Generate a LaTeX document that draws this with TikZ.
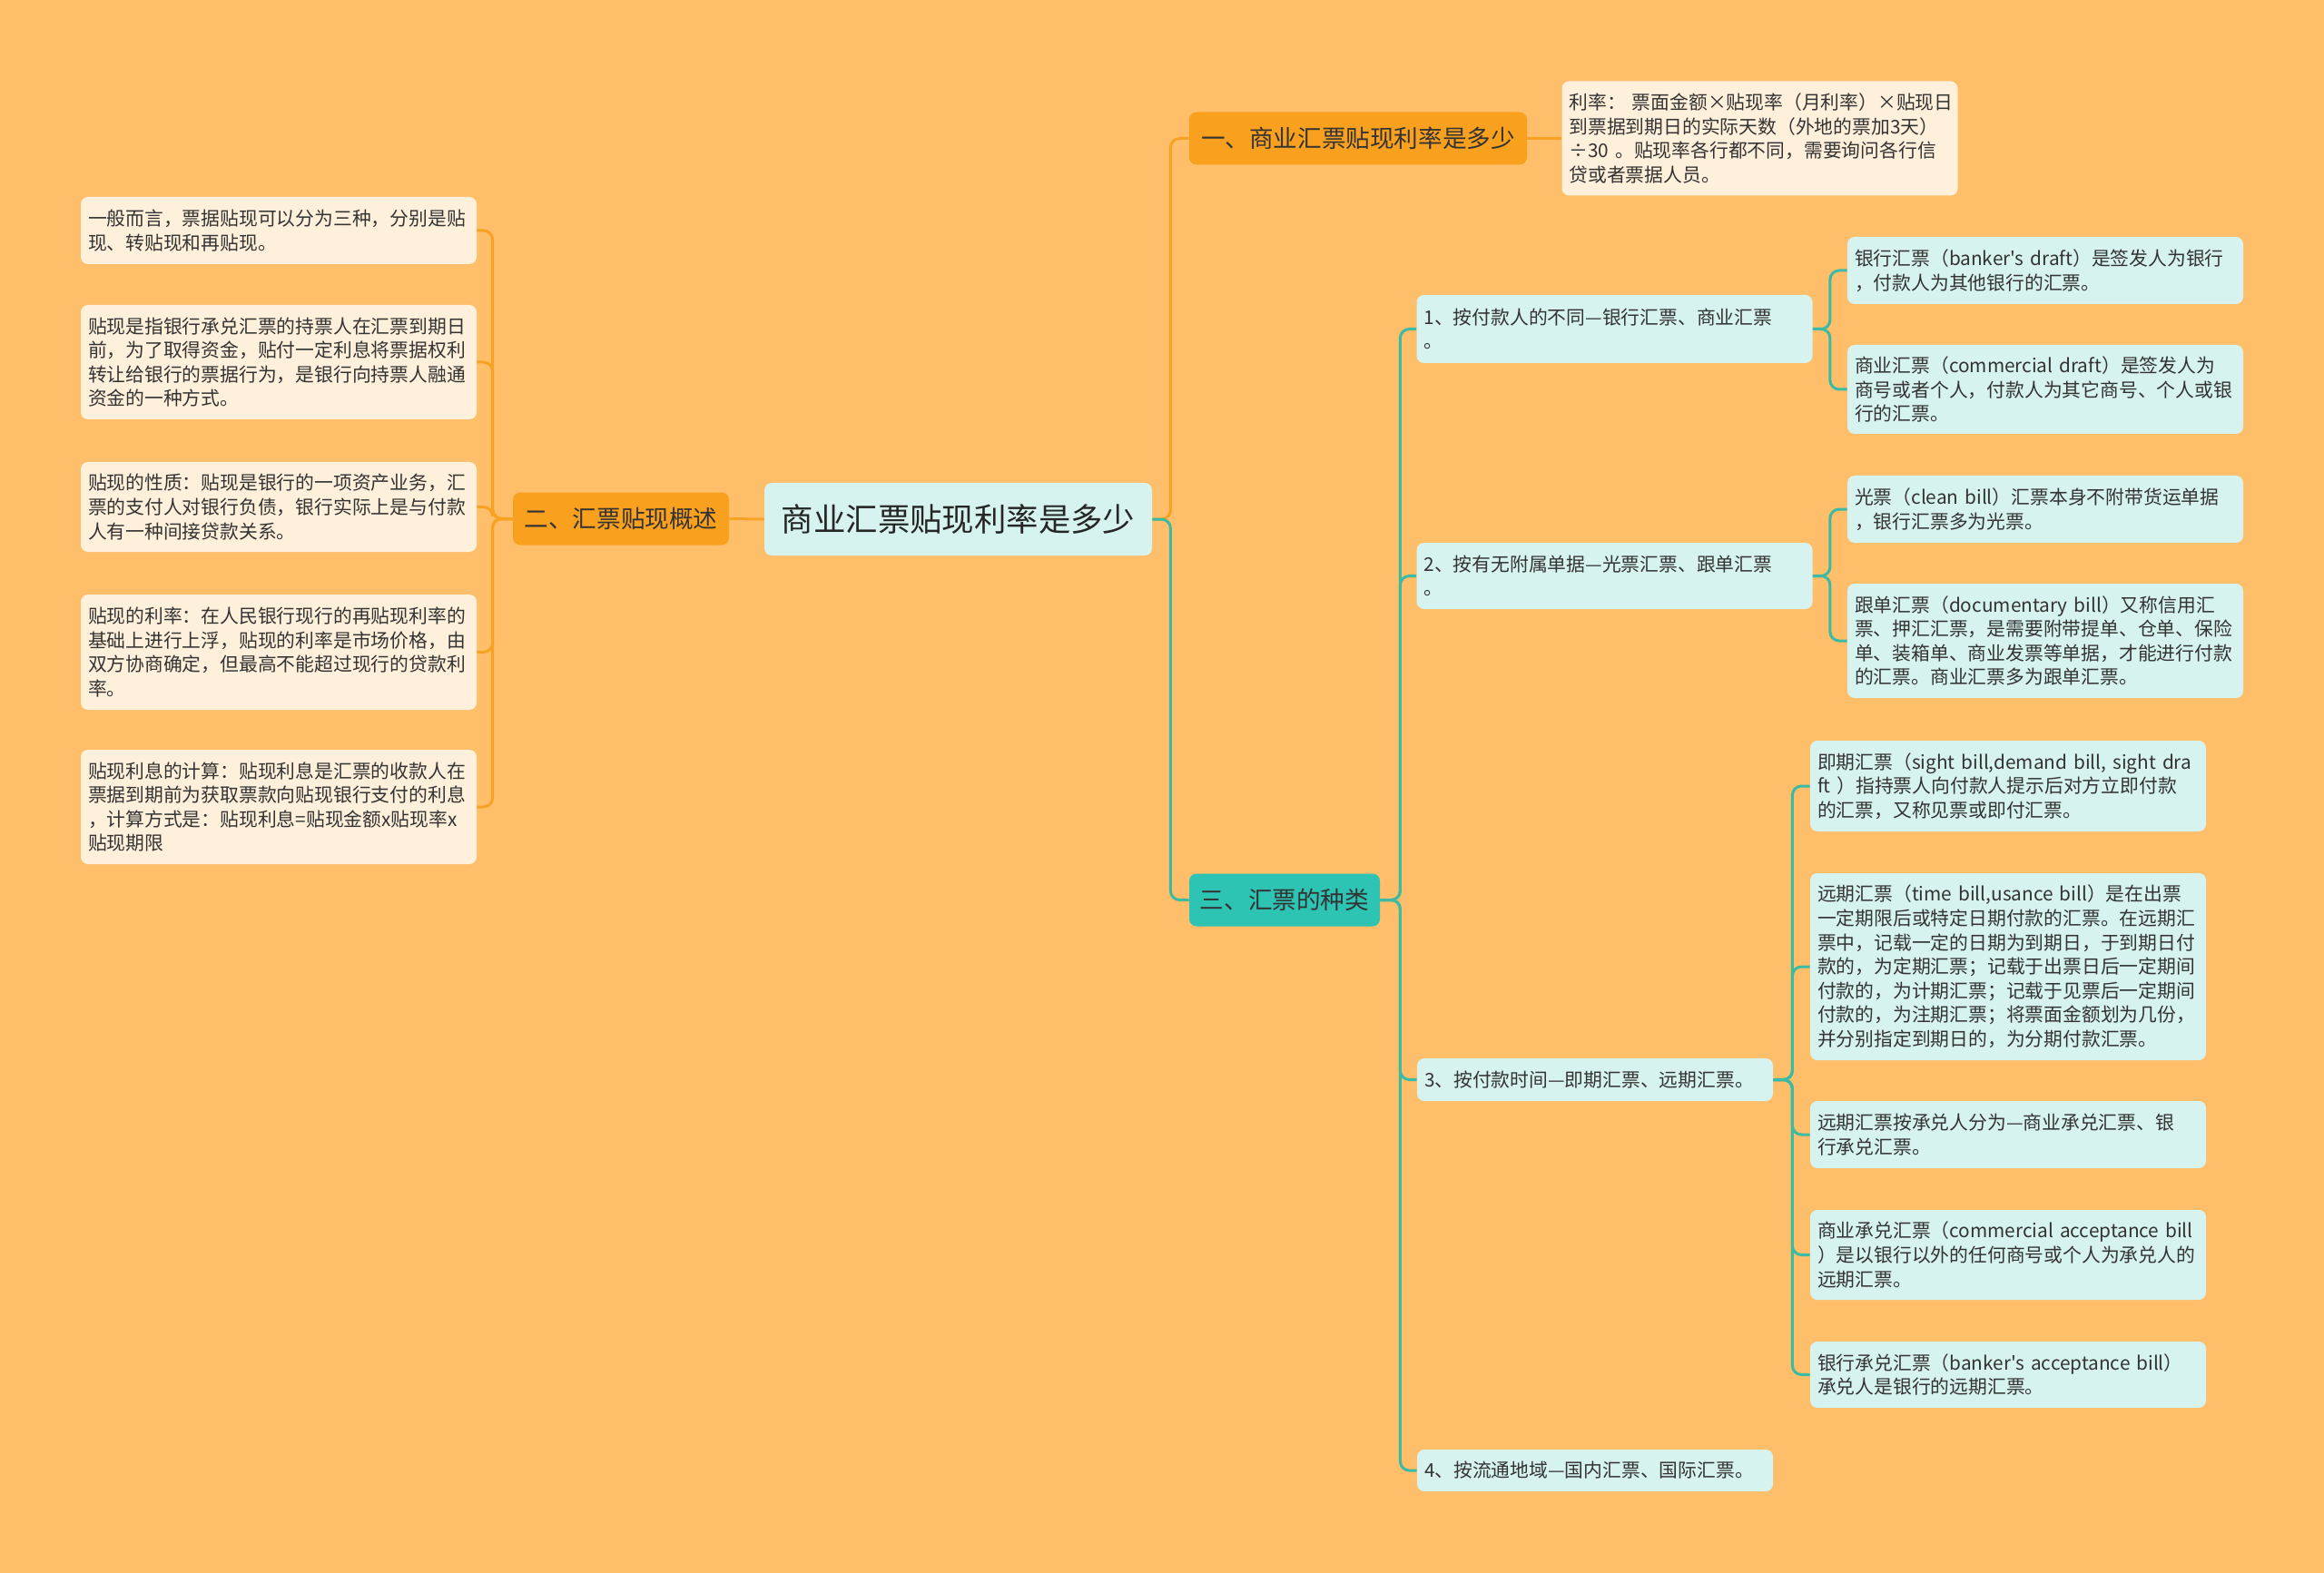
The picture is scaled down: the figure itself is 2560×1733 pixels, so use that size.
\documentclass[tikz,border=0pt]{standalone}
\usepackage{fontspec}
\setmainfont{Noto Sans CJK SC}[Ligatures=TeXOff]
\usepackage{xcolor}
\definecolor{paperOrange}{HTML}{FFBE69}
\definecolor{boxOrange}{HTML}{F9A01E}
\definecolor{creamLeaf}{HTML}{FEF0DA}
\definecolor{mintLeaf}{HTML}{D6F3F0}
\definecolor{boxTeal}{HTML}{2EC4B4}
\definecolor{linkOrange}{HTML}{F7A223}
\definecolor{linkTeal}{HTML}{3BBAA4}
\definecolor{darkText}{HTML}{333333}
\usepackage{tikz}
\tikzset{
    % Base style for all boxes
    mind base/.style={
        font=\fontsize{10.4}{13.3}\selectfont,
        text=darkText,
        rounded corners=4pt,
        inner xsep=4pt,
        inner ysep=3pt,
    },
    % Central topic
    root/.style={
        mind base,
        fill=mintLeaf,
        font=\fontsize{17.7}{21}\selectfont,
        text=black!85,
        minimum width=213.5pt,
        minimum height=40pt,
    },
    % First level topics
    branch/.style={
        mind base,
        fill=boxOrange,
        font=\fontsize{13.3}{16}\selectfont,
        minimum height=29pt,
    },
    teal branch/.style={
        branch,
        fill=boxTeal,
    },
    % Text boxes
    leaf/.style={
        mind base,
        fill=creamLeaf,
        align=left,
        text width=210pt,
    },
    teal leaf/.style={
        leaf,
        fill=mintLeaf,
    },
    % Connectors
    orange link/.style={
        draw=linkOrange,
        line width=1.5pt,
        rounded corners=5pt,
    },
    teal link/.style={
        orange link,
        draw=linkTeal,
    },
}

\begin{document}
\begin{tikzpicture}[x=0.5pt, y=-0.5pt]
    \fill [paperOrange] (0,0) rectangle (2560,1733);

    \node (root) [root] at (1055.5,572) {商业汇票贴现利率是多少};

    % one
    \node (b1) [branch, minimum width=186pt] at (1496,152.5) {一、商业汇票贴现利率是多少};
    \node (b1a) [leaf, minimum height=63pt] at (1938.5,152.5) {利率：~票面金额×贴现率（月利率）×贴现日\\到票据到期日的实际天数（外地的票加3天）\\÷30 。贴现率各行都不同，需要询问各行信\\贷或者票据人员。};

    % two
    \node (b2) [branch, minimum width=119pt] at (684,571.5) {二、汇票贴现概述};
    \node (b2a) [leaf, minimum height=37pt] at (307,254) {一般而言，票据贴现可以分为三种，分别是贴\\现、转贴现和再贴现。};
    \node (b2b) [leaf, minimum height=63pt] at (307,399) {贴现是指银行承兑汇票的持票人在汇票到期日\\前，为了取得资金，贴付一定利息将票据权利\\转让给银行的票据行为，是银行向持票人融通\\资金的一种方式。};
    \node (b2c) [leaf, minimum height=49.5pt] at (307,558.5) {贴现的性质：贴现是银行的一项资产业务，汇\\票的支付人对银行负债，银行实际上是与付款\\人有一种间接贷款关系。};
    \node (b2d) [leaf, minimum height=63.5pt] at (307,718.5) {贴现的利率：在人民银行现行的再贴现利率的\\基础上进行上浮，贴现的利率是市场价格，由\\双方协商确定，但最高不能超过现行的贷款利\\率。};
    \node (b2e) [leaf, minimum height=63pt] at (307,889) {贴现利息的计算：贴现利息是汇票的收款人在\\票据到期前为获取票款向贴现银行支付的利息\\，计算方式是：贴现利息=贴现金额x贴现率x\\贴现期限};

    % three
    \node (b3) [teal branch, minimum width=105pt] at (1415,991.5) {三、汇票的种类};
    \node (c1) [teal leaf, minimum height=37.5pt] at (1778.5,362.5) {1、按付款人的不同—银行汇票、商业汇票\\。};
    \node (c2) [teal leaf, minimum height=36.5pt] at (1778.5,634.5) {2、按有无附属单据—光票汇票、跟单汇票\\。};
    \node (c3) [teal leaf, text width=188pt, minimum height=23.5pt] at (1757,1189.5) {3、按付款时间—即期汇票、远期汇票。};
    \node (c4) [teal leaf, text width=188pt, minimum height=23pt] at (1757,1620) {4、按流通地域—国内汇票、国际汇票。};

    \node (c1a) [teal leaf, minimum height=37pt] at (2253,298) {银行汇票（banker's~draft）是签发人为银行\\，付款人为其他银行的汇票。};
    \node (c1b) [teal leaf, minimum height=49pt] at (2253,429) {商业汇票（commercial~draft）是签发人为\\商号或者个人，付款人为其它商号、个人或银\\行的汇票。};
    \node (c2a) [teal leaf, minimum height=37pt] at (2253,561) {光票（clean~bill）汇票本身不附带货运单据\\，银行汇票多为光票。};
    \node (c2b) [teal leaf, minimum height=63pt] at (2253,706) {跟单汇票（documentary~bill）又称信用汇\\票、押汇汇票，是需要附带提单、仓单、保险\\单、装箱单、商业发票等单据，才能进行付款\\的汇票。商业汇票多为跟单汇票。};

    \node (c3a) [teal leaf, minimum height=50pt] at (2212,866) {即期汇票（sight~bill,demand~bill,~sight~dra\\ft ）指持票人向付款人提示后对方立即付款\\的汇票，又称见票或即付汇票。};
    \node (c3b) [teal leaf, minimum height=103pt] at (2212,1065) {远期汇票（time~bill,usance~bill）是在出票\\一定期限后或特定日期付款的汇票。在远期汇\\票中，记载一定的日期为到期日，于到期日付\\款的，为定期汇票；记载于出票日后一定期间\\付款的，为计期汇票；记载于见票后一定期间\\付款的，为注期汇票；将票面金额划为几份，\\并分别指定到期日的，为分期付款汇票。};
    \node (c3c) [teal leaf, minimum height=37pt] at (2212,1250) {远期汇票按承兑人分为—商业承兑汇票、银\\行承兑汇票。};
    \node (c3d) [teal leaf, minimum height=49.5pt] at (2212,1382.5) {商业承兑汇票（commercial~acceptance~bill\\）是以银行以外的任何商号或个人为承兑人的\\远期汇票。};
    \node (c3e) [teal leaf, minimum height=36.5pt] at (2212,1514.5) {银行承兑汇票（banker's~acceptance~bill）\\承兑人是银行的远期汇票。};

    % links
    \draw [orange link] (root.east) -- ++(20,0) |- (b1.west);
    \draw [teal link] (root.east) -- ++(20,0) |- (b3.west);
    \draw [orange link] (b2.east) -- (root.west);
    \draw [orange link] (b1.east) -- (b1a.west);

    \draw [orange link] (b2.west) -- ++(-22,0) |- (b2a.east);
    \draw [orange link] (b2.west) -- ++(-22,0) |- (b2b.east);
    \draw [orange link] (b2.west) -- ++(-22,0) |- (b2c.east);
    \draw [orange link] (b2.west) -- ++(-22,0) |- (b2d.east);
    \draw [orange link] (b2.west) -- ++(-22,0) |- (b2e.east);

    \draw [teal link] (b3.east) -- ++(22,0) |- (c1.west);
    \draw [teal link] (b3.east) -- ++(22,0) |- (c2.west);
    \draw [teal link] (b3.east) -- ++(22,0) |- (c3.west);
    \draw [teal link] (b3.east) -- ++(22,0) |- (c4.west);

    \draw [teal link] (c1.east) -- ++(19,0) |- (c1a.west);
    \draw [teal link] (c1.east) -- ++(19,0) |- (c1b.west);
    \draw [teal link] (c2.east) -- ++(19,0) |- (c2a.west);
    \draw [teal link] (c2.east) -- ++(19,0) |- (c2b.west);

    \draw [teal link] (c3.east) -- ++(21,0) |- (c3a.west);
    \draw [teal link] (c3.east) -- ++(21,0) |- (c3b.west);
    \draw [teal link] (c3.east) -- ++(21,0) |- (c3c.west);
    \draw [teal link] (c3.east) -- ++(21,0) |- (c3d.west);
    \draw [teal link] (c3.east) -- ++(21,0) |- (c3e.west);
\end{tikzpicture}
\end{document}
